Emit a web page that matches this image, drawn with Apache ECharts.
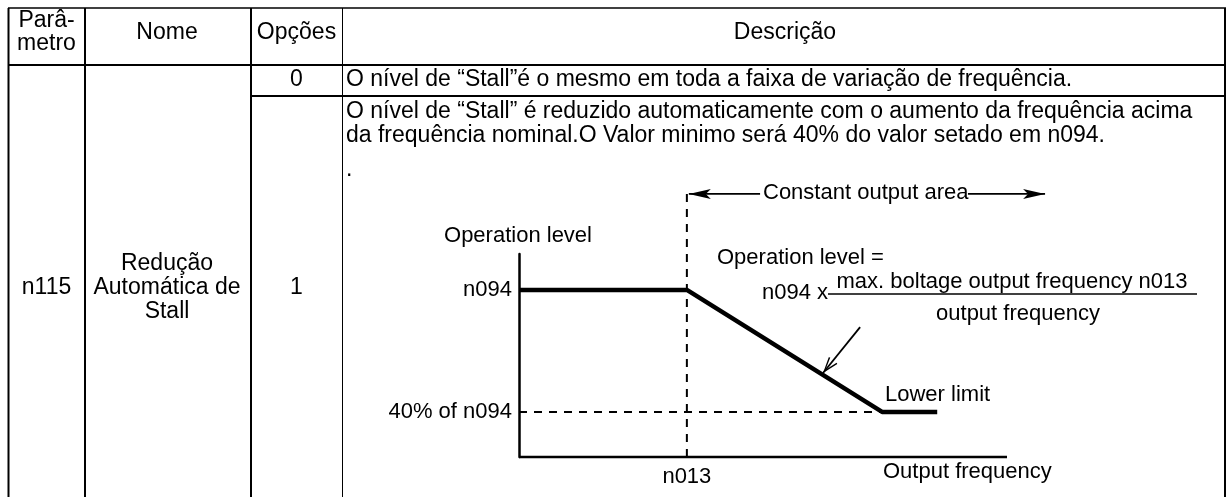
<!DOCTYPE html>
<html><head><meta charset="utf-8">
<script src="https://cdn.jsdelivr.net/npm/echarts@6/dist/echarts.min.js"></script>
<style>html,body{margin:0;padding:0;background:#fff}#c{width:1227px;height:497px}</style>
</head><body><div id="c"></div>
<script>
// ---- table text ----
const headerParam = ['Parâ-', 'metro'];
const headerName = 'Nome';
const headerOptions = 'Opções';
const headerDesc = 'Descrição';
const paramCode = 'n115';
const paramName = ['Redução', 'Automática de', 'Stall'];
const optionValues = ['0', '1'];
const descOption0 = ['O nível de “Stall”é o mesmo em toda a faixa de variação de frequência.'];
const descOption1 = ['O nível de “Stall” é reduzido automaticamente com o aumento da frequência acima',
                     'da frequência nominal.O Valor minimo será 40% do valor setado em n094.'];
const strayDot = '.';

// ---- diagram values (x: output frequency, y: operation level; relative units) ----
const axisEndX = 100;
const levelX = [0, 34.4, 74.4, 85.7];
const levelY = [82.3, 82.3, 22.2, 22.2];
const baseFreqX = 34.4;        // n013
const nominalLevel = 82.3;     // n094
const lowerLevel = 22.2;       // 40% of n094
const guideTopY = 131.5;
const areaArrowY = 129.6;
const areaArrowLeftX = [49.4, 34.8];
const areaArrowRightX = [92.0, 107.8];
const pointerTail = [69.9, 64.0];
const pointerHead = [62.3, 41.4];
const yMarkLabels = ['n094', '40% of n094'];
const xMarkLabels = ['n013'];
const diagramTexts = {
  yTitle: 'Operation level', xTitle: 'Output frequency', area: 'Constant output area',
  formulaTitle: 'Operation level =', formulaLead: 'n094 x',
  numerator: 'max. boltage output frequency n013', denominator: 'output frequency', lower: 'Lower limit'
};

const FAM = '"Liberation Sans", Arial, sans-serif';
const FT = '23px ' + FAM;
const FD = '22px ' + FAM;
const INK = '#000';

function txt(text, x, y, align, font) {
  return { type: 'text', x: x, y: y, silent: true,
    style: { text: text, font: font || FT, fill: INK, textAlign: align || 'left', align: align || 'left',
             textVerticalAlign: 'middle', verticalAlign: 'middle' } };
}
function ln(x1, y1, x2, y2, w) {
  return { type: 'line', silent: true, shape: { x1, y1, x2, y2 }, style: { stroke: INK, lineWidth: w || 2 } };
}

const graphics = [
  // table borders
  ln(8, 8, 1226, 8, 1.5),
  ln(8.5, 8, 8.5, 497, 2),
  ln(85, 8, 85, 497, 2),
  ln(251, 8, 251, 497, 2),
  ln(342.5, 8, 342.5, 497, 1),
  ln(1225, 8, 1225, 497, 2),
  ln(8, 65, 1226, 65, 2),
  ln(251, 96, 1226, 96, 2),
  // header
  txt(headerParam[0], 46.5, 21, 'center'),
  txt(headerParam[1], 46.5, 44, 'center'),
  txt(headerName, 167, 33, 'center'),
  txt(headerOptions, 296.5, 33, 'center'),
  txt(headerDesc, 785, 33, 'center'),
  // rows
  txt(optionValues[0], 296.5, 80, 'center'),
  txt(descOption0[0], 346, 80),
  txt(descOption1[0], 346, 112),
  txt(descOption1[1], 346, 136),
  txt(strayDot, 346, 170),
  txt(paramCode, 46.5, 288, 'center'),
  txt(paramName[0], 167, 264, 'center'),
  txt(paramName[1], 167, 288, 'center'),
  txt(paramName[2], 167, 312, 'center'),
  txt(optionValues[1], 296.5, 288, 'center'),
  // diagram annotations
  txt(diagramTexts.yTitle, 518, 236, 'center', FD),
  txt(diagramTexts.area, 763, 193, 'left', FD),
  txt(diagramTexts.formulaTitle, 717, 258, 'left', FD),
  txt(diagramTexts.formulaLead, 762, 293, 'left', FD),
  txt(diagramTexts.numerator, 1012, 282, 'center', FD),
  ln(828, 294, 1197, 294, 1.5),
  txt(diagramTexts.denominator, 1018, 314, 'center', FD),
  txt(diagramTexts.lower, 885, 395, 'left', FD),
  txt(diagramTexts.xTitle, 883, 472, 'left', FD)
];

const arrowHead = 'path://M0,0 L5,22 L0,17 L-5,22 Z M0,-22 L0.01,-22 Z';
const openHead = 'path://M0,0 L6,16 L4.4,16.6 L0,4 L-4.4,16.6 L-6,16 Z M0,-16.6 L0.01,-16.6 Z';

const pairs = (xs, ys) => xs.map((x, i) => [x, ys[i]]);
const thin = { color: INK, width: 1.8 };
const dashed = { color: INK, width: 2, type: [8, 7] };
const axisStroke = { color: INK, width: 2.5 };
const markLabel = (pos, dist, text) => ({ show: true, position: pos, distance: dist, color: INK, opacity: 1,
  fontSize: 22, fontFamily: FAM, formatter: text });

const chart = echarts.init(document.getElementById('c'), null, { renderer: 'canvas' });
chart.setOption({
  animation: false,
  backgroundColor: '#fff',
  // x range extends past the drawn axis so the right arrow lies inside the scale
  grid: { left: 519, top: 254, width: 488 * 1.1, height: 203, containLabel: false },
  xAxis: { type: 'value', min: 0, max: 110, axisLine: { show: false },
           axisTick: { show: false }, axisLabel: { show: false }, splitLine: { show: false } },
  yAxis: { type: 'value', min: 0, max: 100, axisLine: { show: true, lineStyle: axisStroke },
           axisTick: { show: false }, axisLabel: { show: false }, splitLine: { show: false } },
  graphic: graphics,
  series: [
    { type: 'line', name: 'x axis', data: [[0, 0], [axisEndX, 0]], symbol: 'none', clip: false, lineStyle: axisStroke, z: 3 },
    { type: 'line', name: 'level', data: pairs(levelX, levelY), symbol: 'none', clip: false,
      lineStyle: { color: INK, width: 4.5, join: 'round' } },
    { type: 'line', data: [[baseFreqX, 0], [baseFreqX, guideTopY]], symbol: 'none', clip: false, lineStyle: dashed },
    { type: 'line', data: [[0, lowerLevel], [levelX[2], lowerLevel]], symbol: 'none', clip: false, lineStyle: dashed },
    { type: 'line', data: pairs(areaArrowLeftX, [areaArrowY, areaArrowY]), symbol: 'none', clip: false, lineStyle: thin },
    { type: 'line', data: pairs(areaArrowRightX, [areaArrowY, areaArrowY]), symbol: 'none', clip: false, lineStyle: thin },
    { type: 'line', data: [pointerTail, pointerHead], symbol: 'none', clip: false, lineStyle: thin },
    { type: 'scatter', clip: false, silent: true, itemStyle: { color: INK, opacity: 1 },
      data: [
        { value: [areaArrowLeftX[1], areaArrowY], symbol: arrowHead, symbolSize: [10, 44], symbolRotate: 90 },
        { value: [areaArrowRightX[1], areaArrowY], symbol: arrowHead, symbolSize: [10, 44], symbolRotate: -90 },
        { value: pointerHead, symbol: openHead, symbolSize: [11, 33], symbolRotate: 141 }
      ] },
    { type: 'scatter', clip: false, silent: true, symbolSize: 0, itemStyle: { color: INK, opacity: 1 },
      data: [
        { value: [0, nominalLevel], name: yMarkLabels[0], label: markLabel('left', 7, yMarkLabels[0]) },
        { value: [0, lowerLevel], name: yMarkLabels[1], label: markLabel('left', 7, yMarkLabels[1]) },
        { value: [baseFreqX, 0], name: xMarkLabels[0], label: markLabel('bottom', 9, xMarkLabels[0]) }
      ] }
  ]
});
</script></body></html>
